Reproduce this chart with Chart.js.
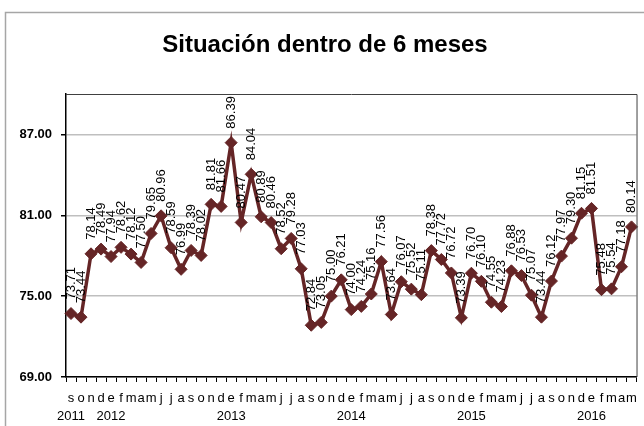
<!DOCTYPE html>
<html>
<head>
<meta charset="utf-8">
<script src="https://cdn.jsdelivr.net/npm/chart.js@4/dist/chart.umd.min.js"></script>
<style>
  body { margin: 0; background: #fff; overflow: hidden; }
  #grafica { display: block; }
</style>
</head>
<body>
<canvas id="grafica" width="644" height="426"></canvas>
<script>
// Datos: situación dentro de 6 meses (sep 2011 - may 2016)
const meses = [
  's','o','n','d',
  'e','f','m','a','m','j','j','a','s','o','n','d',
  'e','f','m','a','m','j','j','a','s','o','n','d',
  'e','f','m','a','m','j','j','a','s','o','n','d',
  'e','f','m','a','m','j','j','a','s','o','n','d',
  'e','f','m','a','m'
];
const anios = { 0: '2011', 4: '2012', 16: '2013', 28: '2014', 40: '2015', 52: '2016' };
const valores = [
  73.71, 73.44, 78.14, 78.49,
  77.94, 78.62, 78.12, 77.50, 79.65, 80.96, 78.59, 76.99, 78.39, 78.02, 81.81, 81.66,
  86.39, 80.47, 84.04, 80.89, 80.46, 78.52, 79.28, 77.03, 72.84, 73.05, 75.00, 76.21,
  74.00, 74.24, 75.16, 77.56, 73.64, 76.07, 75.52, 75.11, 78.38, 77.72, 76.72, 73.39,
  76.70, 76.10, 74.55, 74.23, 76.88, 76.53, 75.07, 73.44, 76.12, 77.97, 79.30, 81.15,
  81.51, 75.48, 75.54, 77.18, 80.14
];
const ticksY = [69, 75, 81, 87];

const etiquetas = meses.map((m, i) => anios[i] ? [m, anios[i]] : [m]);

// Título, marco exterior y borde del área de trazado
const marcoPlugin = {
  id: 'marco',
  beforeDraw(chart) {
    const ctx = chart.ctx;
    ctx.save();
    ctx.fillStyle = '#fff';
    ctx.fillRect(0, 0, chart.width, chart.height);
    ctx.strokeStyle = '#a6a6a6';
    ctx.lineWidth = 1.5;
    ctx.strokeRect(5.5, 12.5, 700, 500);
    ctx.fillStyle = '#000';
    ctx.font = 'bold 24px "Liberation Sans", Arial, sans-serif';
    ctx.textAlign = 'center';
    ctx.textBaseline = 'middle';
    ctx.fillText('Situación dentro de 6 meses', 325, 45);
    ctx.restore();
  },
  afterDraw(chart) {
    const a = chart.chartArea;
    const ctx = chart.ctx;
    ctx.save();
    ctx.strokeStyle = '#404040';
    ctx.lineWidth = 1;
    ctx.beginPath();
    ctx.moveTo(a.left, a.top + 0.5);
    ctx.lineTo(a.right + 0.5, a.top + 0.5);
    ctx.lineTo(a.right + 0.5, a.bottom);
    ctx.stroke();
    ctx.restore();
  }
};

// Etiquetas de datos verticales sobre cada punto
const etiquetasPlugin = {
  id: 'etiquetasDatos',
  afterDatasetsDraw(chart) {
    const ctx = chart.ctx;
    const meta = chart.getDatasetMeta(0);
    ctx.save();
    ctx.fillStyle = '#000';
    ctx.font = '13px "Liberation Sans", Arial, sans-serif';
    ctx.textAlign = 'left';
    ctx.textBaseline = 'middle';
    meta.data.forEach((p, i) => {
      ctx.save();
      ctx.translate(p.x, p.y - 14);
      ctx.rotate(-Math.PI / 2);
      ctx.fillText(valores[i].toFixed(2), 0, 0);
      ctx.restore();
    });
    ctx.restore();
  }
};

new Chart(document.getElementById('grafica'), {
  type: 'line',
  data: {
    labels: etiquetas,
    datasets: [{
      data: valores,
      borderColor: '#652526',
      backgroundColor: '#652526',
      borderWidth: 3.5,
      pointStyle: 'rectRot',
      pointRadius: 6,
      pointBorderWidth: 1,
      pointBackgroundColor: '#652526',
      pointBorderColor: '#652526',
      tension: 0
    }]
  },
  options: {
    responsive: false,
    animation: false,
    layout: { padding: { top: 94, right: 5, left: 0, bottom: 0 } },
    plugins: {
      legend: { display: false },
      tooltip: { enabled: false }
    },
    scales: {
      x: {
        offset: true,
        afterFit(scale) { scale.height = 49; },
        border: { display: true, color: '#000', width: 1.5 },
        grid: {
          offset: true,
          drawOnChartArea: false,
          drawTicks: true,
          tickLength: 5,
          tickColor: '#000'
        },
        ticks: {
          autoSkip: false,
          maxRotation: 0,
          padding: 7,
          color: '#000',
          font: { family: '"Liberation Sans", Arial, sans-serif', size: 13, lineHeight: 1.4 }
        }
      },
      y: {
        min: 69,
        max: 90,
        afterFit(scale) { scale.width = 66; },
        afterBuildTicks(scale) { scale.ticks = ticksY.map(v => ({ value: v })); },
        border: { display: true, color: '#000', width: 1.5 },
        grid: {
          color: '#bfbfbf',
          lineWidth: 1.5,
          tickLength: 5,
          tickColor: '#000'
        },
        ticks: {
          padding: 9,
          color: '#000',
          font: { family: '"Liberation Sans", Arial, sans-serif', size: 13, weight: 'bold' },
          callback: v => Number(v).toFixed(2)
        }
      }
    }
  },
  plugins: [marcoPlugin, etiquetasPlugin]
});
</script>
</body>
</html>
